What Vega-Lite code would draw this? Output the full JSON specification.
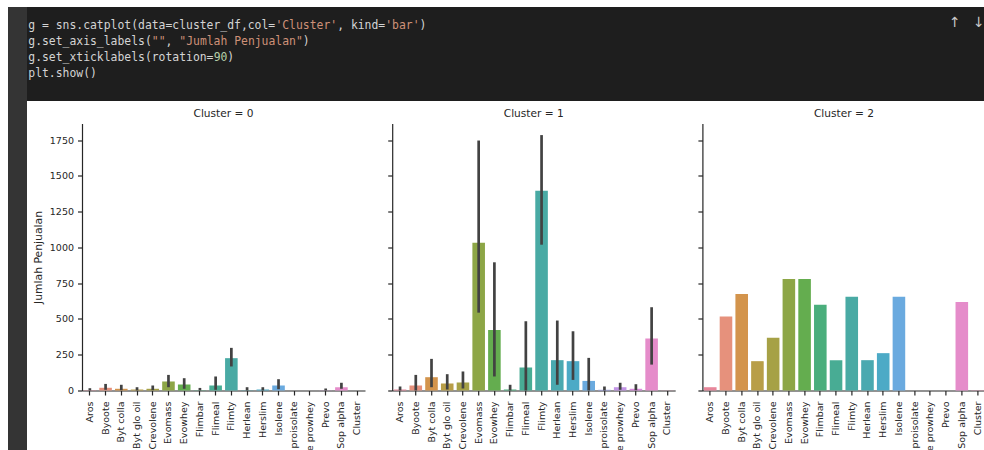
{
  "$schema": "https://vega.github.io/schema/vega-lite/v6.json",
  "padding": {"left": 8, "top": 7, "right": 0, "bottom": 0},
  "background": "white",
  "spacing": 0,
  "resolve": {"scale": {"color": "independent"}},
  "config": {
    "view": {"stroke": null},
    "font": "DejaVu Sans",
    "title": {"font": "DejaVu Sans", "fontSize": 10.6, "fontWeight": "normal", "color": "#262626", "offset": 3.5},
    "axis": {
      "grid": false,
      "domainColor": "#262626", "domainWidth": 1.2,
      "tickColor": "#262626", "tickWidth": 1.2, "tickSize": 4.5,
      "labelFont": "DejaVu Sans", "labelFontSize": 9.5, "labelColor": "#262626", "labelOverlap": false,
      "titleFont": "DejaVu Sans", "titleFontSize": 10.8, "titleFontWeight": "normal", "titleColor": "#262626"
    }
  },
  "datasets": {
    "code": [
      {"line": 1, "col": 0, "text": "g = sns.catplot(data=cluster_df,col=", "tok": "plain"},
      {"line": 1, "col": 36, "text": "'Cluster'", "tok": "string"},
      {"line": 1, "col": 45, "text": ", kind=", "tok": "plain"},
      {"line": 1, "col": 52, "text": "'bar'", "tok": "string"},
      {"line": 1, "col": 57, "text": ")", "tok": "plain"},
      {"line": 2, "col": 0, "text": "g.set_axis_labels(", "tok": "plain"},
      {"line": 2, "col": 18, "text": "\"\"", "tok": "string"},
      {"line": 2, "col": 20, "text": ",", "tok": "plain"},
      {"line": 2, "col": 22, "text": "\"Jumlah Penjualan\"", "tok": "string"},
      {"line": 2, "col": 40, "text": ")", "tok": "plain"},
      {"line": 3, "col": 0, "text": "g.set_xticklabels(rotation=", "tok": "plain"},
      {"line": 3, "col": 27, "text": "90", "tok": "number"},
      {"line": 3, "col": 29, "text": ")", "tok": "plain"},
      {"line": 4, "col": 0, "text": "plt.show()", "tok": "plain"},
      {"line": 0.8, "col": 135.0, "text": "↑", "tok": "ui"},
      {"line": 0.8, "col": 138.5, "text": "↓", "tok": "ui"}
    ],
    "sales": [
      {"c": 0, "p": "Aros", "v": 2, "lo": 0, "hi": 16},
      {"c": 0, "p": "Byoote", "v": 19, "lo": 5, "hi": 46},
      {"c": 0, "p": "Byt colla", "v": 12, "lo": 2, "hi": 40},
      {"c": 0, "p": "Byt glo oil", "v": 7, "lo": 0, "hi": 23},
      {"c": 0, "p": "Crevolene", "v": 12, "lo": 2, "hi": 35},
      {"c": 0, "p": "Evomass", "v": 63, "lo": 23, "hi": 109},
      {"c": 0, "p": "Evowhey", "v": 42, "lo": 12, "hi": 86},
      {"c": 0, "p": "Flimbar", "v": 2, "lo": 0, "hi": 18},
      {"c": 0, "p": "Flimeal", "v": 35, "lo": 5, "hi": 98},
      {"c": 0, "p": "Flimty", "v": 226, "lo": 168, "hi": 298},
      {"c": 0, "p": "Herlean", "v": 2, "lo": 0, "hi": 23},
      {"c": 0, "p": "Herslim", "v": 7, "lo": 0, "hi": 23},
      {"c": 0, "p": "Isolene", "v": 35, "lo": 9, "hi": 79},
      {"c": 0, "p": "Evolene proisolate", "v": 0},
      {"c": 0, "p": "Evolene prowhey", "v": 0},
      {"c": 0, "p": "Prevo", "v": 1, "lo": 0, "hi": 14},
      {"c": 0, "p": "Sop alpha", "v": 23, "lo": 12, "hi": 54},
      {"c": 0, "p": "Cluster", "v": 0},
      {"c": 1, "p": "Aros", "v": 7, "lo": 0, "hi": 28},
      {"c": 1, "p": "Byoote", "v": 35, "lo": 0, "hi": 109},
      {"c": 1, "p": "Byt colla", "v": 93, "lo": 23, "hi": 221},
      {"c": 1, "p": "Byt glo oil", "v": 49, "lo": 7, "hi": 114},
      {"c": 1, "p": "Crevolene", "v": 56, "lo": 14, "hi": 133},
      {"c": 1, "p": "Evomass", "v": 1033, "lo": 544, "hi": 1747},
      {"c": 1, "p": "Evowhey", "v": 423, "lo": 98, "hi": 896},
      {"c": 1, "p": "Flimbar", "v": 7, "lo": 0, "hi": 40},
      {"c": 1, "p": "Flimeal", "v": 161, "lo": 0, "hi": 484},
      {"c": 1, "p": "Flimty", "v": 1396, "lo": 1019, "hi": 1785},
      {"c": 1, "p": "Herlean", "v": 212, "lo": 40, "hi": 489},
      {"c": 1, "p": "Herslim", "v": 205, "lo": 74, "hi": 414},
      {"c": 1, "p": "Isolene", "v": 67, "lo": 0, "hi": 228},
      {"c": 1, "p": "Evolene proisolate", "v": 5, "lo": 0, "hi": 28},
      {"c": 1, "p": "Evolene prowhey", "v": 23, "lo": 5, "hi": 54},
      {"c": 1, "p": "Prevo", "v": 12, "lo": 2, "hi": 44},
      {"c": 1, "p": "Sop alpha", "v": 363, "lo": 181, "hi": 582},
      {"c": 1, "p": "Cluster", "v": 1},
      {"c": 2, "p": "Aros", "v": 23},
      {"c": 2, "p": "Byoote", "v": 517},
      {"c": 2, "p": "Byt colla", "v": 675},
      {"c": 2, "p": "Byt glo oil", "v": 205},
      {"c": 2, "p": "Crevolene", "v": 368},
      {"c": 2, "p": "Evomass", "v": 779},
      {"c": 2, "p": "Evowhey", "v": 779},
      {"c": 2, "p": "Flimbar", "v": 600},
      {"c": 2, "p": "Flimeal", "v": 212},
      {"c": 2, "p": "Flimty", "v": 656},
      {"c": 2, "p": "Herlean", "v": 212},
      {"c": 2, "p": "Herslim", "v": 261},
      {"c": 2, "p": "Isolene", "v": 656},
      {"c": 2, "p": "Evolene proisolate", "v": 0},
      {"c": 2, "p": "Evolene prowhey", "v": 0},
      {"c": 2, "p": "Prevo", "v": 0},
      {"c": 2, "p": "Sop alpha", "v": 619},
      {"c": 2, "p": "Cluster", "v": 2}
    ]
  },
  "hconcat": [
    {
      "width": 19,
      "height": 443,
      "view": {"fill": "#343434", "stroke": null},
      "data": {"values": []},
      "mark": {"type": "text"},
      "encoding": {}
    },
    {
      "spacing": 7.5,
      "resolve": {"scale": {"color": "independent"}},
      "vconcat": [
        {
          "width": 957,
          "height": 94,
          "view": {"fill": "#1e1e1e", "stroke": null},
          "data": {"name": "code"},
          "encoding": {
            "x": {"field": "col", "type": "quantitative", "scale": {"domain": [-0.189, 139.234], "nice": false, "zero": false}, "axis": null},
            "y": {"field": "line", "type": "quantitative", "scale": {"domain": [-0.1875, 5.6875], "nice": false, "zero": false, "reverse": true}, "axis": null},
            "text": {"field": "text"},
            "color": {"field": "tok", "type": "nominal", "scale": {"domain": ["plain", "string", "number", "ui"], "range": ["#d4d4d4", "#ce9178", "#b5cea8", "#c8c8c8"]}, "legend": null}
          },
          "layer": [
            {
              "transform": [{"filter": "datum.tok != 'ui'"}],
              "mark": {"type": "text", "align": "left", "baseline": "middle", "font": "DejaVu Sans Mono", "fontSize": 11.4}
            },
            {
              "transform": [{"filter": "datum.tok == 'ui'"}],
              "mark": {"type": "text", "align": "center", "baseline": "middle", "font": "DejaVu Sans", "fontSize": 14}
            }
          ]
        },
        {
          "spacing": 4,
          "hconcat": [
            {
              "width": 1,
              "height": 10,
              "data": {"values": []},
              "mark": {"type": "text"},
              "encoding": {}
            },
            {
              "spacing": 21.2,
              "data": {"name": "sales"},
              "hconcat": [
                {
                  "width": 283, "height": 267,
                  "title": "Cluster = 0",
                  "transform": [{"filter": "datum.c == 0"}],
                  "encoding": {
                    "x": {"field": "p", "type": "nominal", "sort": null,
                      "scale": {"domain": ["Aros","Byoote","Byt colla","Byt glo oil","Crevolene","Evomass","Evowhey","Flimbar","Flimeal","Flimty","Herlean","Herslim","Isolene","Evolene proisolate","Evolene prowhey","Prevo","Sop alpha","Cluster"], "paddingInner": 0.2, "paddingOuter": 0.1},
                      "axis": {"title": null, "labelAngle": -90, "labelPadding": 6, "labelOverlap": false}}
                  },
                  "layer": [
                    {
                      "mark": {"type": "bar"},
                      "encoding": {
                        "y": {"field": "v", "type": "quantitative", "scale": {"domain": [0, 1866], "nice": false},
                          "axis": {"title": "Jumlah Penjualan", "format": "d", "values": [0, 250, 500, 750, 1000, 1250, 1500, 1750], "labelOverlap": false, "labelPadding": 4, "titlePadding": 6}},
                        "color": {"field": "p", "type": "nominal", "legend": null,
                          "scale": {"domain": ["Aros","Byoote","Byt colla","Byt glo oil","Crevolene","Evomass","Evowhey","Flimbar","Flimeal","Flimty","Herlean","Herslim","Isolene","Evolene proisolate","Evolene prowhey","Prevo","Sop alpha","Cluster"],
                            "range": ["#e7869a","#e6917c","#d3944c","#b89e48","#a6a146","#8da646","#64ad4f","#4aae7c","#48ac94","#49aaa4","#4aa9b0","#4caac6","#6aaadf","#9aa0e8","#c294e6","#dc8ce0","#e58cca","#e78bb0"]}}
                      }
                    },
                    {
                      "transform": [{"filter": "datum.lo != null"}],
                      "mark": {"type": "rule", "color": "#424242", "strokeWidth": 2.7},
                      "encoding": {"y": {"field": "lo", "type": "quantitative", "axis": {"title": "Jumlah Penjualan", "format": "d", "values": [0, 250, 500, 750, 1000, 1250, 1500, 1750], "labelOverlap": false, "labelPadding": 4, "titlePadding": 6}}, "y2": {"field": "hi"}}
                    }
                  ]
                },
                {
                  "width": 283, "height": 267,
                  "title": "Cluster = 1",
                  "transform": [{"filter": "datum.c == 1"}],
                  "encoding": {
                    "x": {"field": "p", "type": "nominal", "sort": null,
                      "scale": {"domain": ["Aros","Byoote","Byt colla","Byt glo oil","Crevolene","Evomass","Evowhey","Flimbar","Flimeal","Flimty","Herlean","Herslim","Isolene","Evolene proisolate","Evolene prowhey","Prevo","Sop alpha","Cluster"], "paddingInner": 0.2, "paddingOuter": 0.1},
                      "axis": {"title": null, "labelAngle": -90, "labelPadding": 6, "labelOverlap": false}}
                  },
                  "layer": [
                    {
                      "mark": {"type": "bar"},
                      "encoding": {
                        "y": {"field": "v", "type": "quantitative", "scale": {"domain": [0, 1866], "nice": false},
                          "axis": {"title": null, "labels": false, "values": [0, 250, 500, 750, 1000, 1250, 1500, 1750]}},
                        "color": {"field": "p", "type": "nominal", "legend": null,
                          "scale": {"domain": ["Aros","Byoote","Byt colla","Byt glo oil","Crevolene","Evomass","Evowhey","Flimbar","Flimeal","Flimty","Herlean","Herslim","Isolene","Evolene proisolate","Evolene prowhey","Prevo","Sop alpha","Cluster"],
                            "range": ["#e7869a","#e6917c","#d3944c","#b89e48","#a6a146","#8da646","#64ad4f","#4aae7c","#48ac94","#49aaa4","#4aa9b0","#4caac6","#6aaadf","#9aa0e8","#c294e6","#dc8ce0","#e58cca","#e78bb0"]}}
                      }
                    },
                    {
                      "transform": [{"filter": "datum.lo != null"}],
                      "mark": {"type": "rule", "color": "#424242", "strokeWidth": 2.7},
                      "encoding": {"y": {"field": "lo", "type": "quantitative", "axis": {"title": null, "labels": false, "values": [0, 250, 500, 750, 1000, 1250, 1500, 1750]}}, "y2": {"field": "hi"}}
                    }
                  ]
                },
                {
                  "width": 283, "height": 267,
                  "title": "Cluster = 2",
                  "transform": [{"filter": "datum.c == 2"}],
                  "encoding": {
                    "x": {"field": "p", "type": "nominal", "sort": null,
                      "scale": {"domain": ["Aros","Byoote","Byt colla","Byt glo oil","Crevolene","Evomass","Evowhey","Flimbar","Flimeal","Flimty","Herlean","Herslim","Isolene","Evolene proisolate","Evolene prowhey","Prevo","Sop alpha","Cluster"], "paddingInner": 0.2, "paddingOuter": 0.1},
                      "axis": {"title": null, "labelAngle": -90, "labelPadding": 6, "labelOverlap": false}}
                  },
                  "layer": [
                    {
                      "mark": {"type": "bar"},
                      "encoding": {
                        "y": {"field": "v", "type": "quantitative", "scale": {"domain": [0, 1866], "nice": false},
                          "axis": {"title": null, "labels": false, "values": [0, 250, 500, 750, 1000, 1250, 1500, 1750]}},
                        "color": {"field": "p", "type": "nominal", "legend": null,
                          "scale": {"domain": ["Aros","Byoote","Byt colla","Byt glo oil","Crevolene","Evomass","Evowhey","Flimbar","Flimeal","Flimty","Herlean","Herslim","Isolene","Evolene proisolate","Evolene prowhey","Prevo","Sop alpha","Cluster"],
                            "range": ["#e7869a","#e6917c","#d3944c","#b89e48","#a6a146","#8da646","#64ad4f","#4aae7c","#48ac94","#49aaa4","#4aa9b0","#4caac6","#6aaadf","#9aa0e8","#c294e6","#dc8ce0","#e58cca","#e78bb0"]}}
                      }
                    }
                  ]
                }
              ]
            }
          ]
        }
      ]
    }
  ]
}
